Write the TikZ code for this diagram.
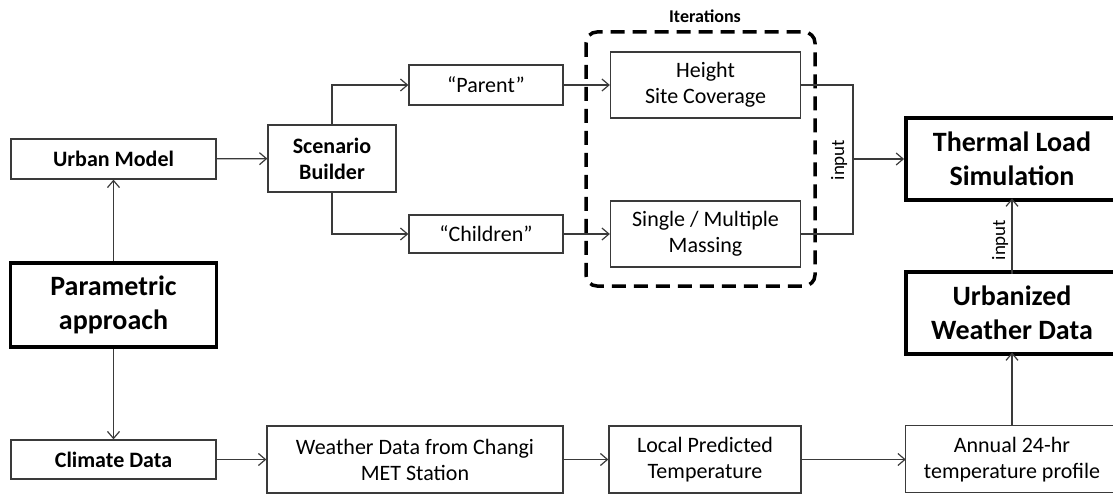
\documentclass[tikz,border=0pt]{standalone}
\usepackage{fontspec}
\setmainfont{Carlito}
\usetikzlibrary{arrows.meta}
\definecolor{ln}{HTML}{3A3A3A}
\tikzset{
  box/.style={draw=ln, line width=1.3pt, inner sep=0pt, align=center, font=\fontsize{22}{26}\selectfont},
  bbox/.style={box, font=\fontsize{22}{26}\selectfont\bfseries},
  tbox/.style={draw=black, line width=3.5pt, inner sep=0pt, align=center, font=\fontsize{28}{34}\selectfont\bfseries},
  obox/.style={inner sep=0pt, align=center},
  conn/.style={draw=ln, line width=1.2pt, -{Straight Barb[length=7pt,width=12pt,line width=1.2pt]}},
  plain/.style={draw=ln, line width=1.2pt},
  lbl/.style={font=\fontsize{19}{22}\selectfont, inner sep=0pt}
}
\begin{document}
\begin{tikzpicture}[x=1pt,y=-1pt]
\useasboundingbox (0,0) rectangle (1113,494);
% nodes
\node[bbox, minimum width=205pt, minimum height=40pt] (urban) at (113.5,159) {Urban Model};
\node[bbox, minimum width=128pt, minimum height=67pt] (scen) at (332,158.5) {Scenario\\Builder};
\node[box, minimum width=154pt, minimum height=40pt] (parent) at (486,85) {“Parent”};
\node[box, minimum width=154pt, minimum height=38pt] (child) at (486,234) {“Children”};
\node[box, minimum width=190pt, minimum height=66pt] (height) at (705.5,85) {Height\\Site Coverage};
\node[box, minimum width=190pt, minimum height=66pt] (single) at (705.5,234) {Single / Multiple\\Massing};
\node[tbox, minimum width=206pt, minimum height=84pt] (param) at (113.5,305) {Parametric\\approach};
\node[bbox, minimum width=205pt, minimum height=39pt] (climate) at (113.5,459.5) {Climate Data};
\node[box, minimum width=296pt, minimum height=67pt] (weather) at (415,459.5) {Weather Data from Changi\\MET Station};
\node[box, minimum width=192pt, minimum height=67pt] (local) at (705,459.5) {Local Predicted\\Temperature};
% right-hand boxes run past the right edge of the picture
\node[obox, font=\fontsize{28}{34}\selectfont\bfseries, minimum width=212pt, minimum height=82pt] (thermal) at (1012,159) {Thermal Load\\Simulation};
\node[obox, font=\fontsize{28}{34}\selectfont\bfseries, minimum width=212pt, minimum height=82pt] (urbw) at (1012,313) {Urbanized\\Weather Data};
\node[obox, font=\fontsize{22}{26}\selectfont, minimum width=212pt, minimum height=67pt] (annual) at (1012,459.5) {Annual 24-hr\\temperature profile};
\draw[black, line width=3.5pt] (thermal.north west) rectangle ++(240,82);
\draw[black, line width=3.5pt] (urbw.north west) rectangle ++(240,82);
\draw[ln, line width=1.3pt] (annual.north west) rectangle ++(240,67);
% iterations group
\draw[black, line width=3.5pt, dash pattern=on 14pt off 8pt, rounded corners=11pt] (586,32) rectangle (815,286);
\node[font=\fontsize{18}{20}\selectfont\bfseries, inner sep=0pt] (iter) at (705,16) {Iterations};
% connectors
\path[conn] (urban) -- (scen);
\path[conn] (scen.north) |- (parent.west);
\path[conn] (scen.south) |- (child.west);
\path[conn] (parent) -- (height);
\path[conn] (child) -- (single);
\coordinate (bt) at (853,85);
\coordinate (bb) at (853,234);
\coordinate (bm) at (853,159);
\path[plain] (height.east) -- (bt) -- (bb) -- (single.east);
\path[conn] (bm) -- ([xshift=-1.75pt]thermal.west);
\node[lbl, rotate=90] (in1) at (839,160) {input};
\path[conn] (param.north) -- (urban.south);
\path[conn] (param.south) -- (climate.north);
\path[conn] (climate) -- (weather);
\path[conn] (weather) -- (local);
\path[conn] (local) -- (annual);
\path[conn] (annual.north) -- ([yshift=1.75pt]urbw.south);
\path[conn] ([yshift=-1.75pt]urbw.north) -- ([yshift=1.75pt]thermal.south);
\node[lbl, rotate=90] (in2) at (1000,240) {input};
\end{tikzpicture}
\end{document}
